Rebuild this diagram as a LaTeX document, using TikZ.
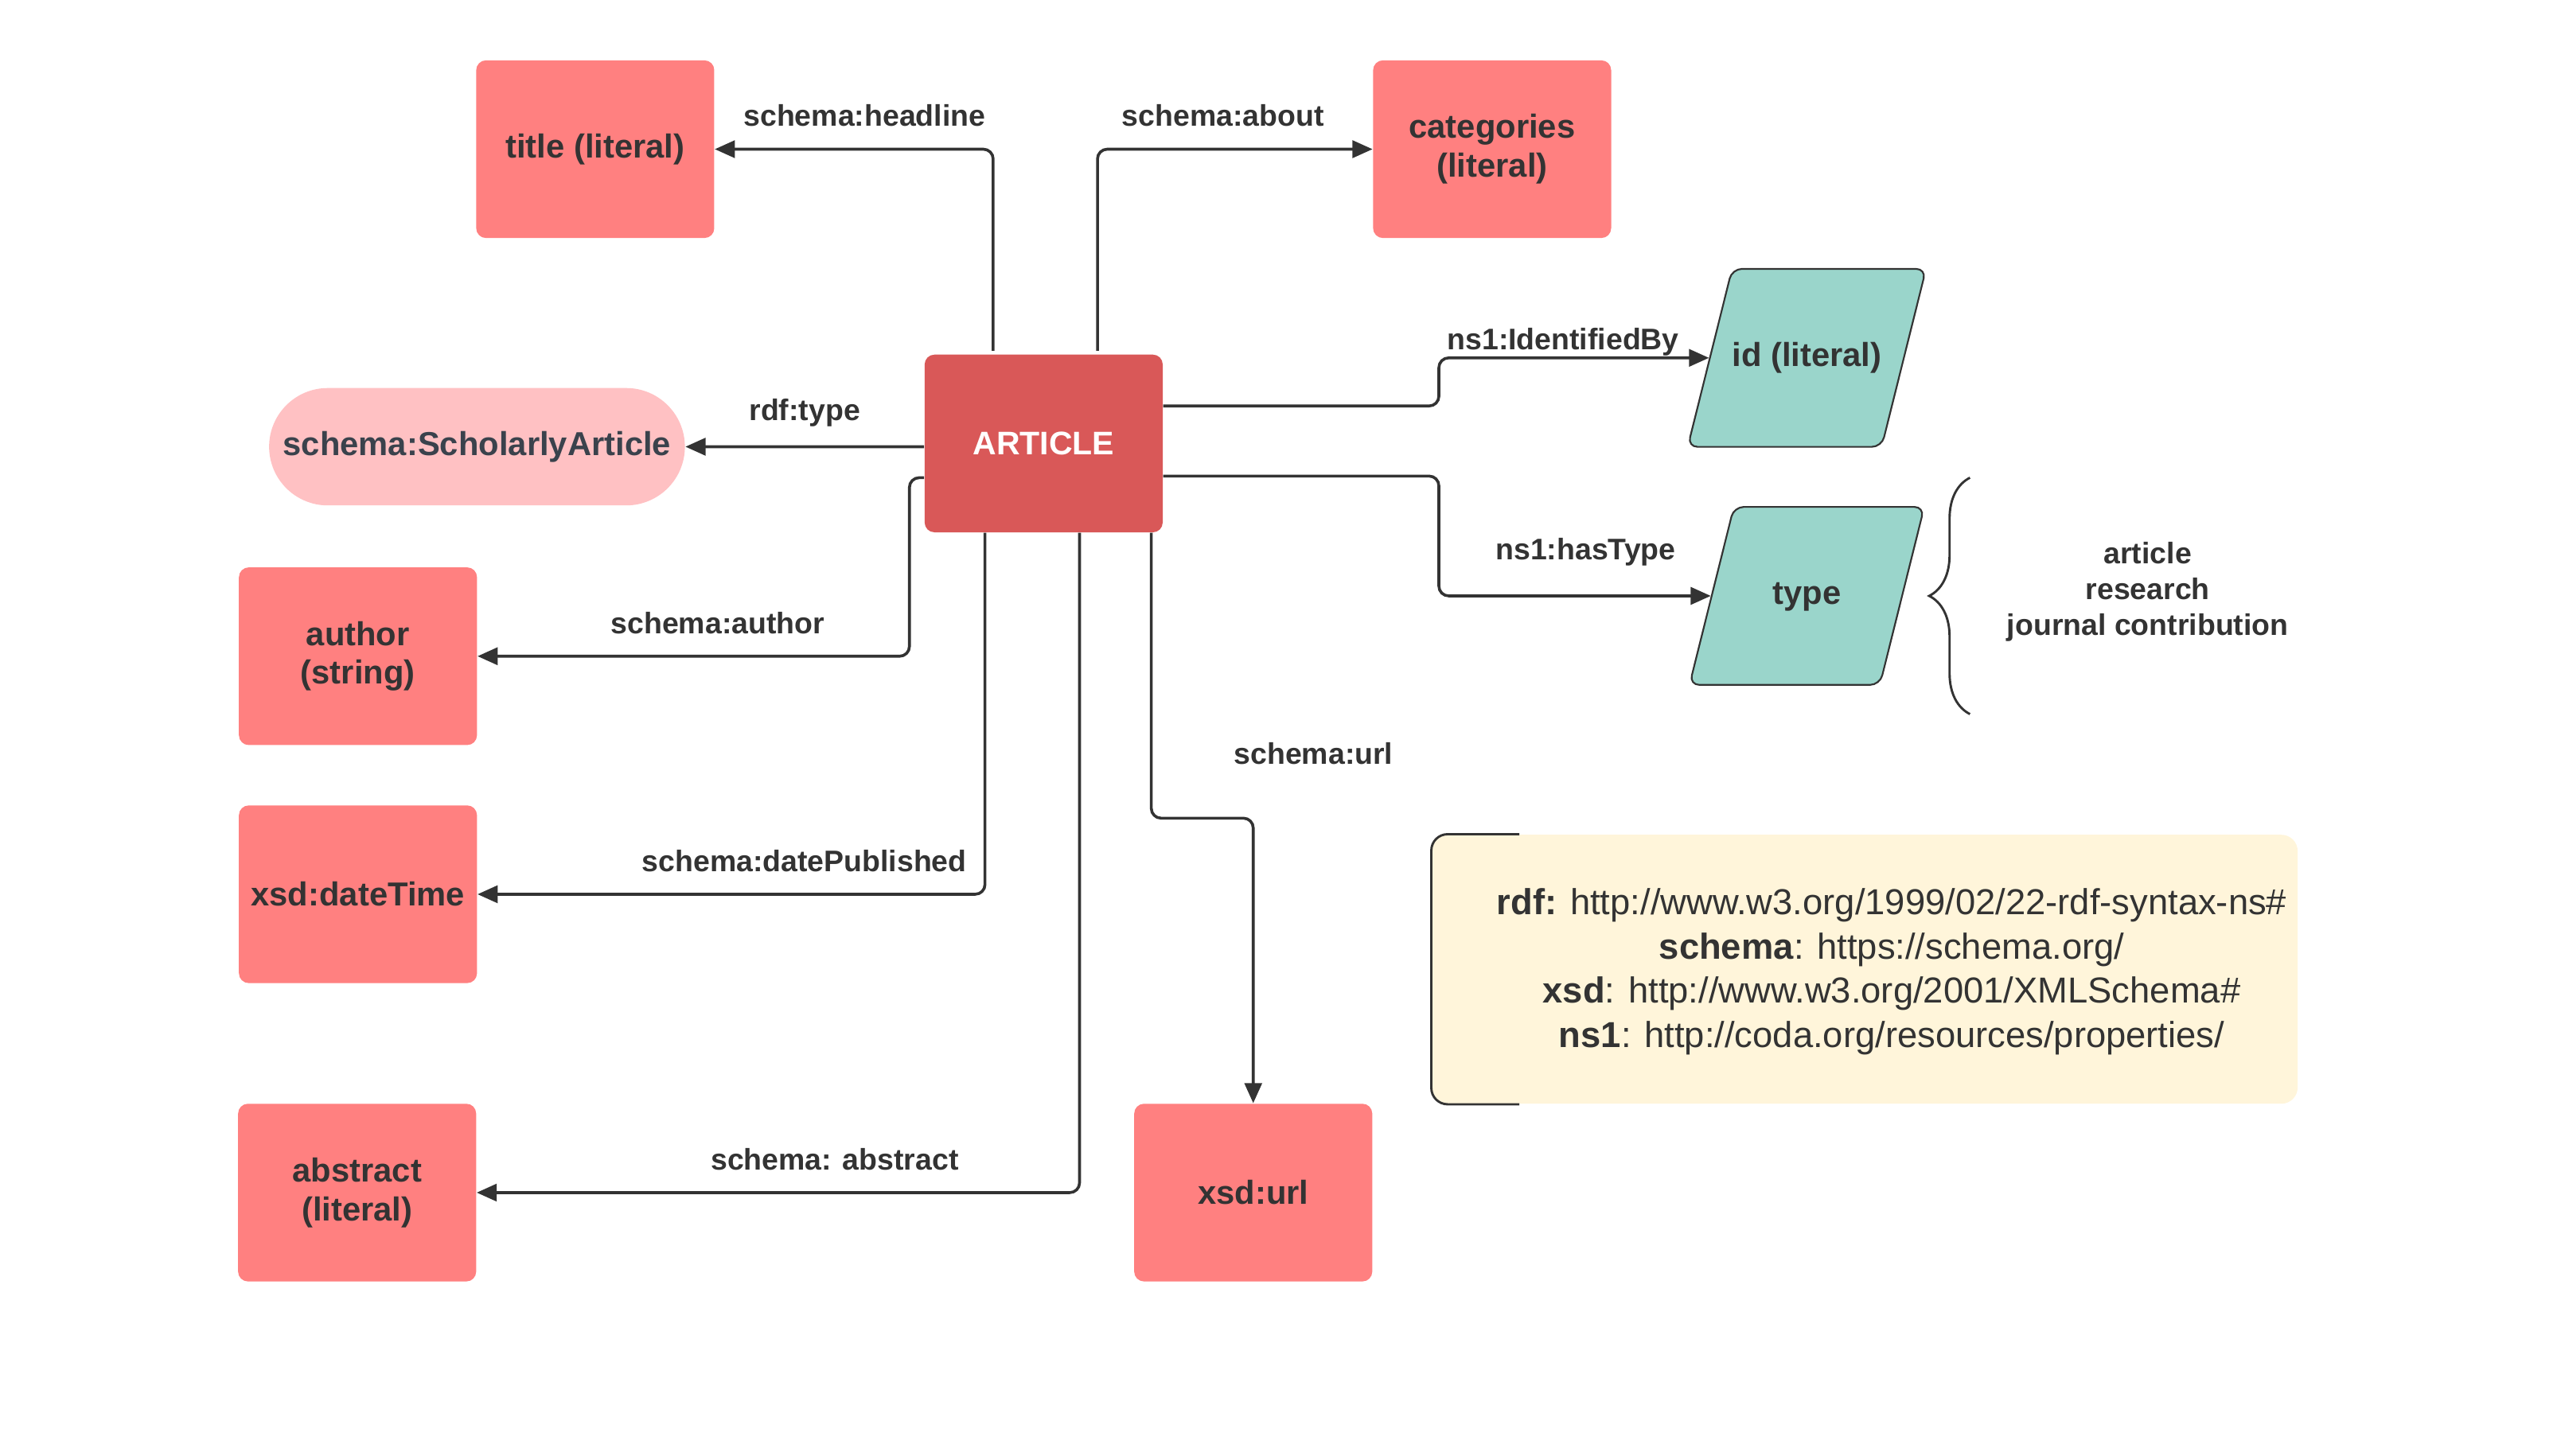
\documentclass[tikz,border=0pt]{standalone}
\usepackage{fontspec}
\setmainfont{Liberation Sans}
\usetikzlibrary{shapes.geometric,arrows.meta,decorations.pathreplacing}
\definecolor{salmon}{HTML}{FF8080}
\definecolor{darkred}{HTML}{D95858}
\definecolor{lightpink}{HTML}{FFC1C3}
\definecolor{mint}{HTML}{9AD5CB}
\definecolor{cream}{HTML}{FFF5DA}
\definecolor{ink}{HTML}{333333}
\definecolor{slate}{HTML}{3A424C}

\begin{document}
\begin{tikzpicture}[x=0.02cm,y=-0.02cm,
    box/.style={fill=salmon, rounded corners=0.12cm, minimum width=2.92cm, minimum height=2.18cm,
      align=center, text=ink, font=\fontsize{11.6}{13.6}\selectfont\bfseries},
    lit/.style={trapezium, trapezium left angle=76, trapezium right angle=104, trapezium stretches body=true,
      fill=mint, draw=ink, line width=0.6pt, rounded corners=0.12cm, minimum width=2.88cm,
      text height=8.5pt, text depth=2.4pt, inner ysep=0.9cm, inner xsep=0pt, text=ink, font=\fontsize{11.6}{13.6}\selectfont\bfseries},
    link/.style={draw=ink, line width=1pt, rounded corners=0.12cm, -{Triangle[length=7pt,width=6pt]}},
    lbl/.style={anchor=base, yshift=0.28cm, text=ink, font=\fontsize{10.4}{12}\selectfont\bfseries}]
    \useasboundingbox (0,0) rectangle (1568,893);
    %Nodes
    \node[box, fill=darkred, text=white, font=\fontsize{11.4}{13}\selectfont\bfseries] (art) at (640,272) {ARTICLE};
    \node[box] (title) at (365,91.5) {title (literal)};
    \node[box] (cat) at (915,91.5) {categories\\(literal)};
    \node[box, fill=lightpink, text=slate, minimum width=5.1cm, minimum height=1.44cm, rounded corners=0.72cm] (sch) at (292.5,274) {schema:ScholarlyArticle};
    \node[box] (author) at (219.5,402.5) {author\\(string)};
    \node[box] (date) at (219.5,548.5) {xsd:dateTime};
    \node[box] (abs) at (219,731.5) {abstract\\(literal)};
    \node[box] (url) at (768.5,731.5) {xsd:url};
    \node[lit] (id) at (1108,219.5) {id (literal)};
    \node[lit] (type) at (1108,365.5) {type};
    %Type values
    \draw[ink, line width=0.8pt, decorate, decoration={brace, amplitude=0.5cm}] (1208,438) -- (1208,293);
    \node[align=center, text=ink, font=\fontsize{10.4}{12.5}\selectfont\bfseries] (vals) at (1317,363) {article\\research\\journal contribution};
    %Edges
    \draw[link] ([xshift=-0.62cm,yshift=0.04cm]art.north) |- node[lbl, pos=0.731] {schema:headline} (title.east);
    \draw[link] ([xshift=0.66cm,yshift=0.04cm]art.north) |- node[lbl, pos=0.728] {schema:about} (cat.west);
    \draw[link] ([yshift=0.46cm]art.east) -- ++(169,0) |- node[lbl, pos=0.73, yshift=-0.18cm] {ns1:IdentifiedBy} (id.west);
    \draw[link] ([yshift=-0.4cm]art.east) -- ++(169,0) |- node[lbl, pos=0.77, yshift=0.16cm] {ns1:hasType} (type.west);
    \draw[link] ([yshift=-0.04cm]art.west) -- node[lbl, yshift=0.04cm] {rdf:type} (sch.east);
    \draw[link] ([yshift=-0.42cm]art.west) -- ++(-9,0) |- node[lbl, pos=0.722] {schema:author} (author.east);
    \draw[link] ([xshift=-0.72cm]art.south) |- node[lbl, pos=0.678] {schema:datePublished} (date.east);
    \draw[link] ([xshift=0.44cm]art.south) |- node[lbl, pos=0.703] {schema: abstract} (abs.east);
    \draw[link] ([xshift=1.32cm]art.south) -- node[lbl, anchor=base west, pos=0.81, xshift=0.88cm, yshift=-0.28cm] {schema:url} ++(0,175) -| (url.north);
    %Legend
    \node[fill=cream, rounded corners=0.2cm, minimum width=10.62cm, minimum height=3.3cm] (lbox) at (1143.5,594.5) {};
    \draw[ink, line width=0.8pt, rounded corners=0.2cm] ([xshift=1.08cm]lbox.north west) -- (lbox.north west) -- (lbox.south west) -- ([xshift=1.08cm]lbox.south west);
    \node[align=center, text=ink, font=\fontsize{12.6}{15.4}\selectfont] (legend) at (1160,596) {\textbf{rdf:} http://www.w3.org/1999/02/22-rdf-syntax-ns\#\\
      \textbf{schema}: https://schema.org/\\
      \textbf{xsd}: http://www.w3.org/2001/XMLSchema\#\\
      \textbf{ns1}: http://coda.org/resources/properties/};
\end{tikzpicture}
\end{document}
